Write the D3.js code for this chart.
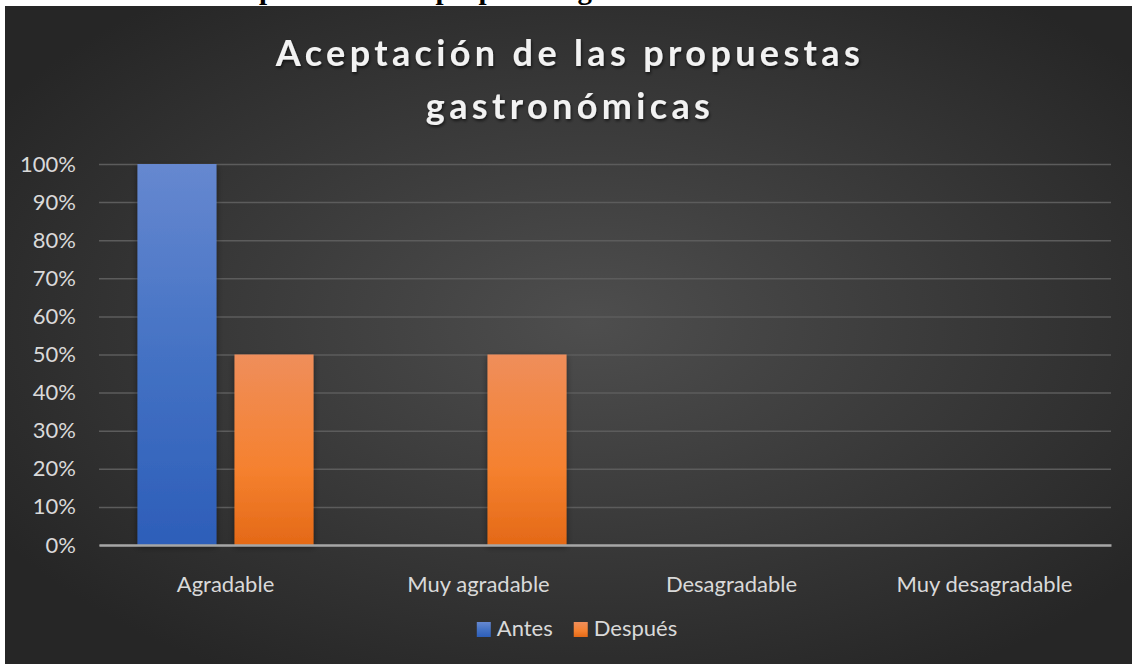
<!DOCTYPE html>
<html>
<head>
<meta charset="utf-8">
<script src="https://cdn.jsdelivr.net/npm/d3@7"></script>
<style>
  body { margin: 0; background: #fff; }
  svg { display: block; }
</style>
</head>
<body>
<div id="chart"></div>
<script>
// data
var categories = ["Agradable", "Muy agradable", "Desagradable", "Muy desagradable"];
var series = ["Antes", "Después"];
var antes = [1, 0, 0, 0];
var despues = [0.5, 0.5, 0, 0];
var yTicks = [0, 0.1, 0.2, 0.3, 0.4, 0.5, 0.6, 0.7, 0.8, 0.9, 1];
var title = ["Aceptación de las propuestas", "gastronómicas"];
var heading = "Aceptación de las propuestas gastronómicas";

var W = 1132, H = 664;
var margin = {left: 99, right: 21, top: 164, bottom: 119};
var FONT = "Lato, 'Open Sans', sans-serif";

var svg = d3.select("#chart").append("svg").attr("width", W).attr("height", H);
var defs = svg.append("defs");

// background gradient (dark, lighter toward the middle)
var bg = defs.append("radialGradient").attr("id", "bg").attr("cx", "52%").attr("cy", "48%").attr("r", "62%");
bg.append("stop").attr("offset", "0%").attr("stop-color", "#4e4e4e");
bg.append("stop").attr("offset", "100%").attr("stop-color", "#262626");

function barGrad(id, c0, c1, c2, mid) {
  var g = defs.append("linearGradient").attr("id", id).attr("x1", 0).attr("y1", 0).attr("x2", 0).attr("y2", 1);
  g.append("stop").attr("offset", "0%").attr("stop-color", c0);
  g.append("stop").attr("offset", mid).attr("stop-color", c1);
  g.append("stop").attr("offset", "100%").attr("stop-color", c2);
}
barGrad("g0", "#6688d0", "#4472c4", "#2d5eb9", "50%");
barGrad("g1", "#ef8e5b", "#f5812f", "#e46917", "60%");
var fills = ["url(#g0)", "url(#g1)"];

var sh = defs.append("filter").attr("id", "sh").attr("x", "-20%").attr("y", "-20%").attr("width", "140%").attr("height", "140%");
sh.append("feDropShadow").attr("dx", 0).attr("dy", 2).attr("stdDeviation", 3).attr("flood-color", "#000").attr("flood-opacity", 0.45);

var tsh = defs.append("filter").attr("id", "tsh").attr("x", "-10%").attr("y", "-30%").attr("width", "120%").attr("height", "160%");
tsh.append("feDropShadow").attr("dx", 1).attr("dy", 2).attr("stdDeviation", 1.5).attr("flood-color", "#000").attr("flood-opacity", 0.6);

var clip = defs.append("clipPath").attr("id", "topclip");
clip.append("rect").attr("x", 0).attr("y", 0).attr("width", W).attr("height", 6);

// document heading cut off above the chart
var hd = svg.append("text")
  .attr("clip-path", "url(#topclip)")
  .attr("y", -1)
  .style("font-family", "'Liberation Serif', serif")
  .style("font-weight", "bold")
  .style("font-size", "29px")
  .attr("fill", "#000")
  .text(heading);
hd.attr("x", 259 - hd.node().getSubStringLength(0, 3));

// chart area
svg.append("rect").attr("x", 5).attr("y", 6).attr("width", W - 5).attr("height", H - 6).attr("fill", "url(#bg)");

// title
var tt = svg.append("g").attr("filter", "url(#tsh)");
var lines = tt.selectAll("text").data(title).enter().append("text")
  .attr("x", 570)
  .attr("y", function(d, i) { return 66 + i * 53; })
  .attr("text-anchor", "middle")
  .attr("fill", "#f2f2f2")
  .style("font-family", FONT)
  .style("font-weight", "bold")
  .style("font-size", "36px")
  .text(function(d) { return d; });
var natural = lines.node().getComputedTextLength();
var spacing = (584 - natural) / (title[0].length - 1);
lines.style("letter-spacing", spacing + "px");

var x0 = d3.scaleBand().domain(categories).range([margin.left, W - margin.right]).paddingInner(0.304).paddingOuter(0.152);
var x1 = d3.scaleBand().domain(series).range([0, x0.bandwidth()]).paddingInner(0.1856);
var y = d3.scaleLinear().domain([0, 1]).range([H - margin.bottom, margin.top]);

// gridlines + y labels
var yAxis = svg.append("g").attr("transform", "translate(" + margin.left + ",0)")
  .call(d3.axisLeft(y).tickValues(yTicks).tickFormat(d3.format(".0%")).tickSize(-(W - margin.left - margin.right)).tickPadding(23));
yAxis.select(".domain").remove();
yAxis.selectAll(".tick line").attr("stroke", "#5c5c5c").attr("stroke-width", 1.5);
yAxis.selectAll(".tick text").attr("fill", "#d9d9d9").style("font-family", FONT).style("font-size", "22px");

// bars
var rows = categories.map(function(c, i) { return {cat: c, vals: [antes[i], despues[i]]}; });
svg.append("g").selectAll("g").data(rows).enter().append("g")
  .attr("transform", function(d) { return "translate(" + x0(d.cat) + ",0)"; })
  .selectAll("rect").data(function(d) { return d.vals.map(function(v, j) { return {s: series[j], v: v, j: j}; }); })
  .enter().append("rect")
  .filter(function(d) { return d.v > 0; })
  .attr("x", function(d) { return x1(d.s); })
  .attr("y", function(d) { return y(d.v); })
  .attr("width", x1.bandwidth())
  .attr("height", function(d) { return y(0) - y(d.v); })
  .attr("fill", function(d) { return fills[d.j]; })
  .attr("filter", "url(#sh)");

// category axis
var xAxis = svg.append("g").attr("transform", "translate(0," + y(0) + ")")
  .call(d3.axisBottom(x0).tickSize(0).tickPadding(31));
xAxis.select(".domain").attr("stroke", "#a6a6a6").attr("stroke-width", 2.5);
xAxis.selectAll(".tick text").attr("fill", "#d9d9d9").style("font-family", FONT).style("font-size", "22px");

// legend
var leg = svg.append("g");
var items = leg.selectAll("g").data(series).enter().append("g");
items.append("rect").attr("width", 14).attr("height", 15).attr("y", 622)
  .attr("fill", function(d, i) { return fills[i]; });
items.append("text").attr("y", 636).attr("fill", "#d9d9d9")
  .style("font-family", FONT).style("font-size", "22px")
  .text(function(d) { return d; });
var pos = 0, offs = [];
items.each(function() {
  offs.push(pos);
  pos += 20 + d3.select(this).select("text").node().getComputedTextLength() + 21;
});
var total = pos - 21, start = 577 - total / 2;
items.each(function(d, i) {
  var g = d3.select(this);
  g.select("rect").attr("x", start + offs[i]);
  g.select("text").attr("x", start + offs[i] + 20);
});
</script>
</body>
</html>
